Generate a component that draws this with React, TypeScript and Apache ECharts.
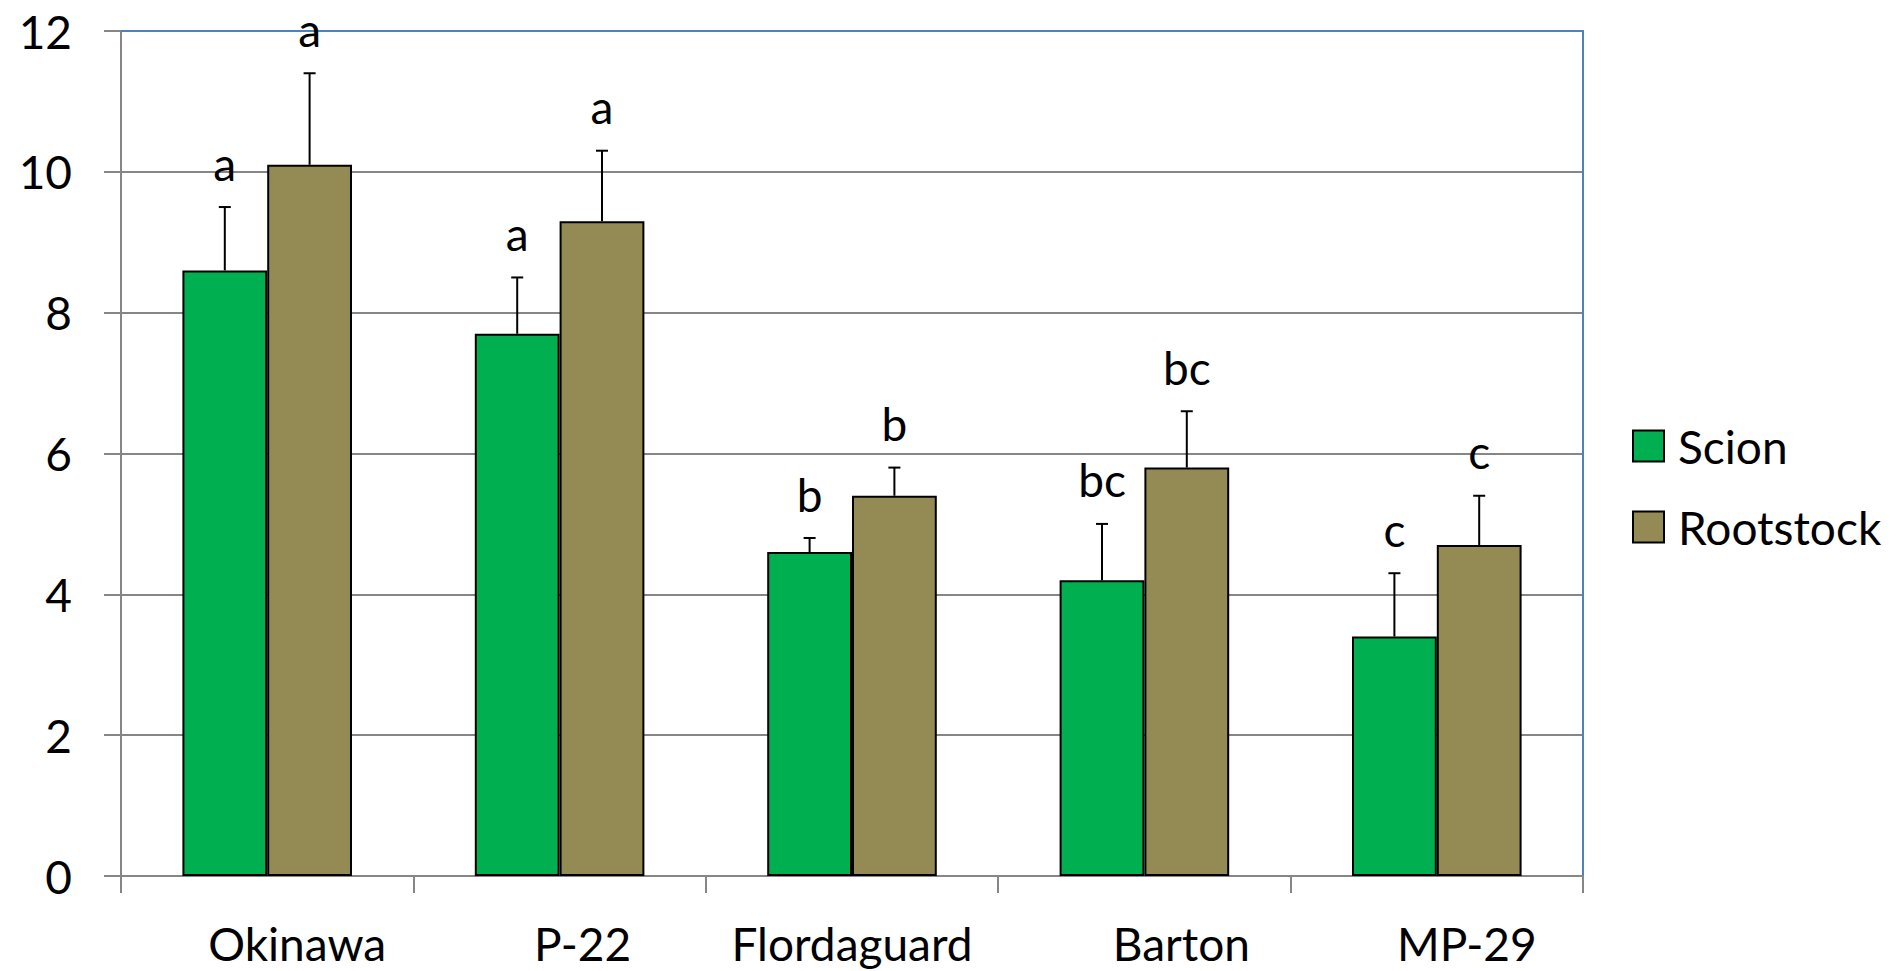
import React, { useEffect, useRef } from "react";
import * as echarts from "echarts";

const categories = ["Okinawa", "P-22", "Flordaguard", "Barton", "MP-29"];
const scion = [8.6, 7.7, 4.6, 4.2, 3.4];
const scionErr = [0.9, 0.8, 0.2, 0.8, 0.9];
const rootstock = [10.1, 9.3, 5.4, 5.8, 4.7];
const rootstockErr = [1.3, 1.0, 0.4, 0.8, 0.7];
const scionLetters = ["a", "a", "b", "bc", "c"];
const rootstockLetters = ["a", "a", "b", "bc", "c"];
const yMin = 0;
const yMax = 12;
const yStep = 2;

const FONT = "Lato";
const FS = 46;
const GAP = 0.42;
const GRAY = "#868686";
const BLUE = "#4F81BD";
// horizontal shift of each category label (px), as in the reference
const labelShift = [30, 23, 0, 37, 30];

function makeErr(values: number[], errs: number[], letters: string[], side: number) {
  return {
    type: "custom",
    z: 5,
    silent: true,
    data: values.map((v, i) => [i, v, errs[i]]),
    encode: { x: 0, y: 1 },
    renderItem: (params: any, api: any) => {
      const idx = api.value(0);
      const val = api.value(1);
      const err = api.value(2);
      const base = api.coord([idx, val]);
      const top = api.coord([idx, val + err]);
      const band = api.size([1, 0])[0];
      const bw = (band * (1 - GAP)) / 2;
      const x = base[0] + (side * bw) / 2;
      return {
        type: "group",
        children: [
          { type: "line", shape: { x1: x, y1: base[1], x2: x, y2: top[1] }, style: { stroke: "#000", lineWidth: 2 } },
          { type: "line", shape: { x1: x - 6, y1: top[1], x2: x + 6, y2: top[1] }, style: { stroke: "#000", lineWidth: 2 } },
          {
            type: "text",
            x,
            y: top[1] - 44,
            style: {
              text: letters[params.dataIndex],
              fill: "#000",
              fontSize: FS,
              fontFamily: FONT,
              align: "center",
              verticalAlign: "middle",
            },
          },
        ],
      };
    },
  };
}

const rich: Record<string, any> = {};
labelShift.forEach((s, i) => {
  rich["l" + i] = { fontSize: FS, fontFamily: FONT, color: "#000", lineHeight: 46, padding: [0, 0, 0, 2 * s] };
});

export default function App() {
  const ref = useRef<HTMLDivElement>(null);
  useEffect(() => {
    if (!ref.current) return;
    const chart = echarts.init(ref.current, undefined, { renderer: "svg" });
    chart.setOption({
      animation: false,
      backgroundColor: "#fff",
      textStyle: { fontFamily: FONT, color: "#000" },
      grid: { left: 121, right: 320, top: 31, bottom: 95, containLabel: false },
      legend: {
        orient: "vertical",
        left: 1627,
        top: 418,
        itemWidth: 31,
        itemHeight: 31,
        itemGap: 35,
        icon: "rect",
        data: ["Scion", "Rootstock"],
        textStyle: { fontSize: FS, fontFamily: FONT, color: "#000", padding: [0, 0, 0, 9] },
      },
      xAxis: [
        {
          type: "category",
          data: categories,
          boundaryGap: true,
          axisLine: { show: true, lineStyle: { color: GRAY, width: 2 } },
          axisTick: { show: true, length: 17, alignWithLabel: false, lineStyle: { color: GRAY, width: 2 } },
          axisLabel: {
            fontSize: FS,
            fontFamily: FONT,
            color: "#000",
            margin: 44,
            interval: 0,
            formatter: (v: string, i: number) => `{l${i}|${v}}`,
            rich,
          },
          splitLine: { show: false },
        },
        {
          type: "category",
          data: categories,
          position: "top",
          axisLine: { show: true, onZero: false, lineStyle: { color: BLUE, width: 2 } },
          axisTick: { show: false },
          axisLabel: { show: false },
          splitLine: { show: false },
        },
      ],
      yAxis: [
        {
          type: "value",
          min: yMin,
          max: yMax,
          interval: yStep,
          axisLine: { show: true, lineStyle: { color: GRAY, width: 2 } },
          axisTick: { show: true, length: 17, lineStyle: { color: GRAY, width: 2 } },
          axisLabel: { fontSize: FS, fontFamily: FONT, color: "#000", margin: 49 },
          splitLine: { show: true, lineStyle: { color: GRAY, width: 2 } },
        },
        {
          type: "value",
          min: yMin,
          max: yMax,
          interval: yStep,
          position: "right",
          axisLine: { show: true, onZero: false, lineStyle: { color: BLUE, width: 2 } },
          axisTick: { show: false },
          axisLabel: { show: false },
          splitLine: { show: false },
        },
      ],
      series: [
        {
          name: "Scion",
          type: "bar",
          data: scion,
          barGap: "0%",
          barCategoryGap: "42%",
          itemStyle: { color: "#00B050", borderColor: "#000", borderWidth: 2 },
        },
        {
          name: "Rootstock",
          type: "bar",
          data: rootstock,
          barGap: "0%",
          barCategoryGap: "42%",
          itemStyle: { color: "#948A54", borderColor: "#000", borderWidth: 2 },
        },
        makeErr(scion, scionErr, scionLetters, -1),
        makeErr(rootstock, rootstockErr, rootstockLetters, 1),
      ],
    });
    return () => chart.dispose();
  }, []);
  return <div ref={ref} style={{ position: "fixed", left: 0, top: 0, width: 1903, height: 971 }} />;
}
